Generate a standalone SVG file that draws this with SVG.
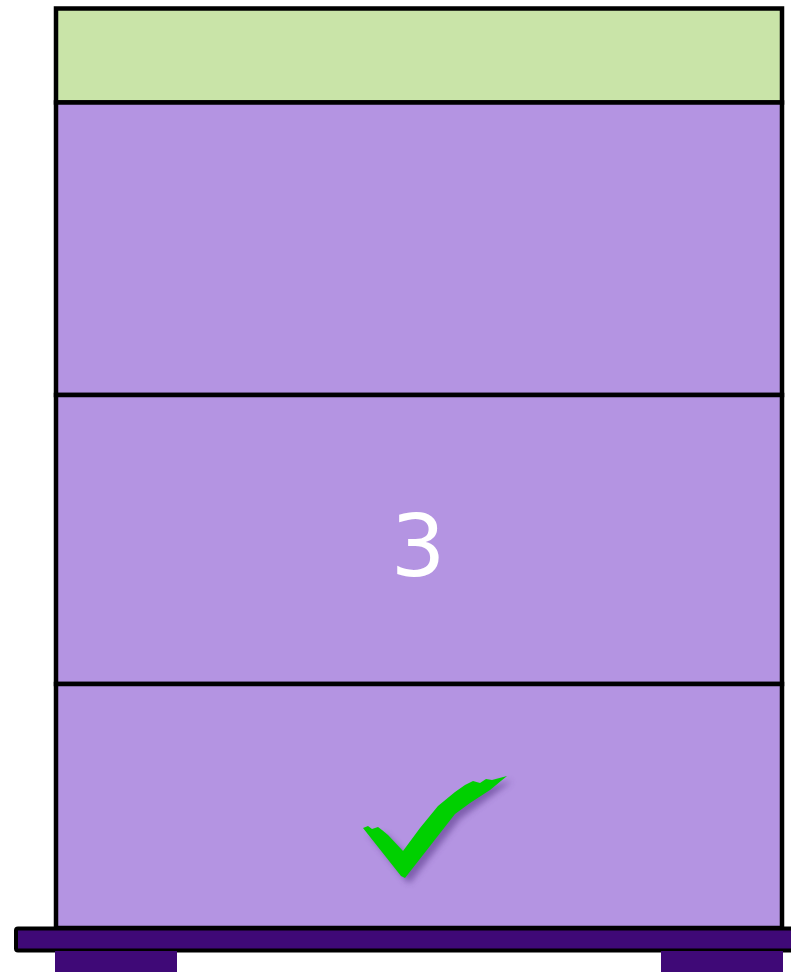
<svg xmlns="http://www.w3.org/2000/svg" width="791" height="972" viewBox="0 0 791 972">
<style>
.box{stroke:#000;stroke-width:4.5}
.base{fill:#3f0977}
</style>
<defs>
<filter id="sh" x="-20%" y="-20%" width="150%" height="150%">
<feGaussianBlur stdDeviation="3"/>
</filter>
</defs>
<rect width="791" height="972" fill="#fff"/>
<g id="lid"><rect class="box" x="56" y="8.5" width="726" height="94" fill="#c9e4a8"/></g>
<g id="box1"><rect class="box" x="56" y="102.5" width="726" height="292.5" fill="#b494e2"/></g>
<g id="box2"><rect class="box" x="56" y="395" width="726" height="289" fill="#b494e2"/>
<text x="418" y="576" font-family="DejaVu Sans, sans-serif" font-size="86" fill="#fff" text-anchor="middle">3</text></g>
<g id="box3"><rect class="box" x="56" y="684" width="726" height="244" fill="#b494e2"/>
<path d="M363,828 L382,830 L403,851 L420,828 L438,806 L465,785 L507,776 L470,803 L455,814 L405,878 L401,876 Z" fill="#5a3a8a" opacity="0.6" transform="translate(5,5)" filter="url(#sh)"/>
<path d="M363,828 L368,826 L372,829 L378,827 L382,830 L388,835 L403,851 L420,828 L438,806 L455,792 L465,785 L473,781 L480,783 L486,779 L492,780 L507,776 L490,790 L470,803 L455,814 L405,878 L401,876 Z" fill="#00d000"/></g>
<g id="stand">
<rect x="16" y="928.5" width="780" height="22" class="base" stroke="#000" stroke-width="4" rx="2"/>
<rect class="base" x="55" y="951" width="122" height="21"/>
<rect class="base" x="661" y="951" width="122" height="21"/>
</g>
<g id="connectors"/>
</svg>
